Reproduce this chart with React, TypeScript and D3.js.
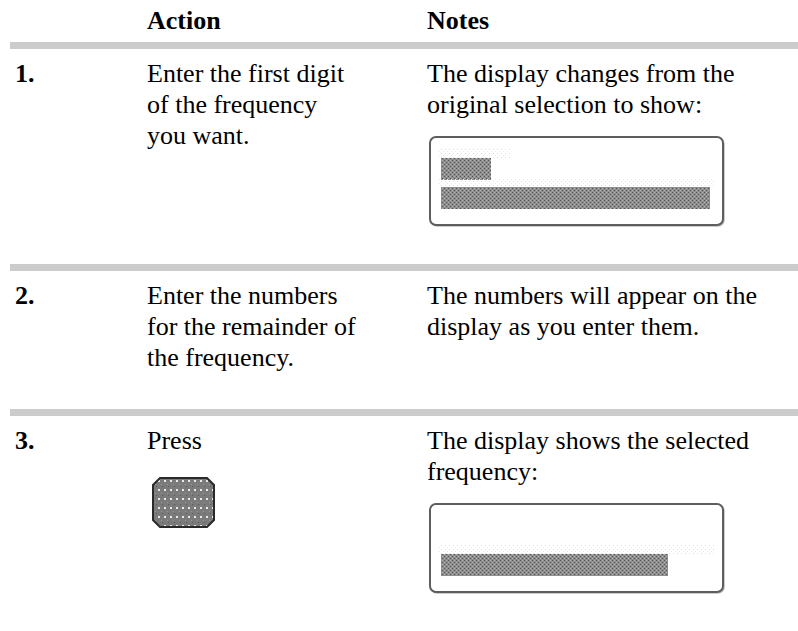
import React from "react";
import * as d3 from "d3";

// row content
const steps = ["1.", "2.", "3."];
const actionLines = [
  ["Enter the first digit", "of the frequency", "you want."],
  ["Enter the numbers", "for the remainder of", "the frequency."],
  ["Press"],
];
const noteLines = [
  ["The display changes from the", "original selection to show:"],
  ["The numbers will appear on the", "display as you enter them."],
  ["The display shows the selected", "frequency:"],
];
// lit segments per display line, in character cells (null = no display drawn)
const displayCells: (number[] | null)[] = [[3, 16], null, [0, 13.5]];
const showsButton = [false, false, true];
const headers = ["Action", "Notes"];

const W = 798;
const H = 631;
const FONT = "'Liberation Serif', 'Times New Roman', serif";
const FS = 26;
const LINE = 31;
const SEP_H = 7;

export default function App() {
  // columns
  const col = d3.scaleOrdinal<string, number>().domain(["step", "action", "notes"]).range([15, 147, 427]);
  const box = { x: 430, w: 293, h: 88 };
  const cell = d3.scaleLinear().domain([0, 16]).range([box.x + 11, box.x + 280]);

  // stack the rows from their content
  let y = 42;
  const rows = steps.map((s, i) => {
    const top = y;
    const base = top + SEP_H + 33;
    const nLines = Math.max(actionLines[i].length, noteLines[i].length);
    const noteEnd = base + (noteLines[i].length - 1) * LINE;
    const boxTop = displayCells[i] ? noteEnd + 24 : null;
    const end = boxTop != null ? boxTop + box.h + 39 : base + (nLines - 1) * LINE + 43;
    y = end;
    return { s, i, top, base, boxTop };
  });

  const button = (x: number, y0: number, w: number, h: number, c: number) => {
    const p = d3.path();
    p.moveTo(x + c, y0);
    p.lineTo(x + w - c, y0);
    p.lineTo(x + w, y0 + c);
    p.lineTo(x + w, y0 + h - c);
    p.lineTo(x + w - c, y0 + h);
    p.lineTo(x + c, y0 + h);
    p.lineTo(x, y0 + h - c);
    p.lineTo(x, y0 + c);
    p.closePath();
    return p.toString();
  };

  return (
    <svg width={W} height={H} style={{ position: "absolute", left: 0, top: 0, display: "block", background: "#fff" }}>
      <defs>
        <pattern id="lcd" width={4} height={4} patternUnits="userSpaceOnUse">
          <rect width={4} height={4} fill="#8e8e8e" />
          <rect x={0} y={0} width={1} height={1} fill="#555" />
          <rect x={2} y={2} width={1} height={1} fill="#555" />
          <rect x={2} y={0} width={1} height={1} fill="#b4b4b4" />
          <rect x={0} y={2} width={1} height={1} fill="#b4b4b4" />
        </pattern>
        <pattern id="ghost" width={4} height={4} patternUnits="userSpaceOnUse">
          <rect x={1} y={1} width={1} height={1} fill="#e2e2e2" />
          <rect x={3} y={3} width={1} height={1} fill="#ececec" />
        </pattern>
        <pattern id="key" width={6} height={9} patternUnits="userSpaceOnUse">
          <rect width={6} height={9} fill="#7b7b7b" />
          <rect x={2} y={3} width={2} height={2} fill="#e8e8e8" />
          <rect x={0} y={0} width={1} height={1} fill="#555" />
          <rect x={5} y={7} width={1} height={1} fill="#999" />
        </pattern>
      </defs>

      <g fontFamily={FONT} fontSize={FS} fontWeight="bold" fill="#000">
        <text x={col("action")} y={29}>{headers[0]}</text>
        <text x={col("notes")} y={29}>{headers[1]}</text>
      </g>

      {rows.map((r) => (
        <g key={r.s}>
          <rect x={10} y={r.top} width={W - 10} height={SEP_H} fill="#cccccc" />
          <text x={col("step")} y={r.base} fontFamily={FONT} fontSize={FS} fontWeight="bold">{r.s}</text>
          <g fontFamily={FONT} fontSize={FS} fill="#000">
            {actionLines[r.i].map((t, k) => (
              <text key={k} x={col("action")} y={r.base + k * LINE}>{t}</text>
            ))}
            {noteLines[r.i].map((t, k) => (
              <text key={k} x={col("notes")} y={r.base + k * LINE}>{t}</text>
            ))}
          </g>
          {showsButton[r.i] && (
            <path d={button(153, r.base + 29, 61, 49, 7)} fill="url(#key)" stroke="#2a2a2a" strokeWidth={2} />
          )}
          {r.boxTop != null && (
            <g>
              <rect x={box.x + 1} y={r.boxTop + 1} width={box.w} height={box.h} rx={6} fill="none" stroke="#bbb" strokeWidth={1.5} />
              <rect x={box.x} y={r.boxTop} width={box.w} height={box.h} rx={6} fill="#fff" stroke="#5e5e5e" strokeWidth={2} />
              {displayCells[r.i]!.map((n, k) =>
                n > 0 ? (
                  <g key={k}>
                    <rect
                      x={cell(0) - 2}
                      y={r.boxTop! + 21 + k * 29 - 9}
                      width={k === 0 ? cell(n) - cell(0) + 22 : cell(16) - cell(0) + 6}
                      height={9}
                      fill="url(#ghost)"
                    />
                    <rect
                      x={cell(0)}
                      y={r.boxTop! + 21 + k * 29}
                      width={cell(n) - cell(0)}
                      height={22}
                      fill="url(#lcd)"
                      shapeRendering="crispEdges"
                    />
                  </g>
                ) : null
              )}
            </g>
          )}
        </g>
      ))}
    </svg>
  );
}
